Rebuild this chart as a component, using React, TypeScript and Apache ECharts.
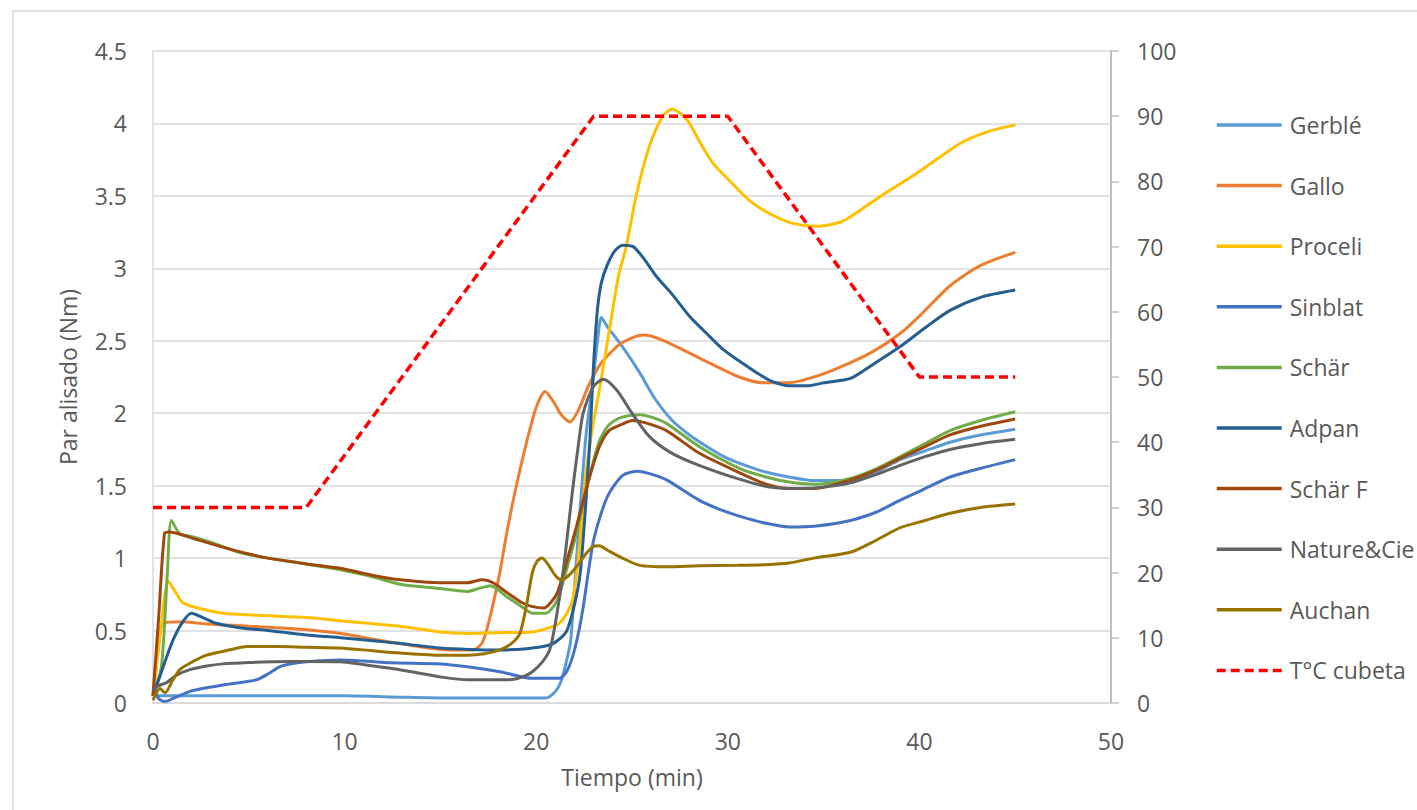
import React, { useEffect, useRef } from "react";
import * as echarts from "echarts";

const seriesNames = ["Gerblé", "Gallo", "Proceli", "Sinblat", "Schär", "Adpan", "Schär F", "Nature&Cie", "Auchan", "T°C cubeta"];
const seriesColors = ["#5B9BD5", "#ED7D31", "#FFC000", "#4472C4", "#70AD47", "#255E91", "#9E480E", "#636363", "#997300", "#FF0000"];

const gerble = [[0,0.10],[0.3,0.05],[1,0.05],[5,0.05],[10,0.05],[13,0.04],[15,0.035],[18,0.035],[20.5,0.035],[21,0.08],[21.3,0.15],[21.6,0.3],[21.8,0.43],[22.0,0.8],[22.3,1.35],[22.6,1.85],[22.97,2.23],[23.2,2.5],[23.4,2.66],[23.7,2.6],[24.5,2.46],[25.4,2.28],[26.2,2.1],[27.1,1.95],[28,1.85],[28.9,1.77],[29.8,1.70],[30.6,1.655],[31.8,1.60],[33.2,1.56],[34.5,1.535],[35.5,1.535],[36.4,1.54],[37.5,1.58],[39,1.68],[40.3,1.74],[41.6,1.80],[43.2,1.85],[45,1.89]];
const gallo = [[0,0.05],[0.3,0.4],[0.5,0.55],[1.5,0.56],[2.8,0.545],[5,0.53],[7.5,0.51],[9.8,0.48],[11.5,0.44],[12.9,0.41],[15,0.37],[16.7,0.366],[17.2,0.42],[17.6,0.6],[18.1,0.9],[18.5,1.2],[19.0,1.52],[19.5,1.8],[20.0,2.04],[20.46,2.15],[20.9,2.08],[21.3,1.99],[21.76,1.94],[22.2,2.02],[22.7,2.18],[23.3,2.33],[23.68,2.39],[24.3,2.47],[25.0,2.52],[25.6,2.54],[26.5,2.51],[28.0,2.415],[29.3,2.33],[30.6,2.25],[31.8,2.21],[33.2,2.21],[34.5,2.25],[35.9,2.32],[37.5,2.42],[39.0,2.55],[40,2.67],[41.6,2.88],[43.2,3.02],[45,3.11]];
const proceli = [[0,0.05],[0.4,0.5],[0.8,0.84],[1.2,0.76],[1.57,0.69],[2.5,0.65],[3.65,0.62],[5.5,0.605],[8,0.59],[10,0.565],[12.9,0.53],[15,0.49],[16.4,0.48],[18,0.485],[19.8,0.49],[20.7,0.52],[21.2,0.55],[21.6,0.62],[21.9,0.71],[22.2,1.0],[22.6,1.59],[23.0,1.95],[23.3,2.16],[23.85,2.6],[24.3,2.95],[24.7,3.15],[25.2,3.49],[25.9,3.84],[26.6,4.05],[27.1,4.1],[27.9,4.02],[28.5,3.88],[29.2,3.73],[30.2,3.59],[31.2,3.46],[32.3,3.37],[33.4,3.31],[34.6,3.29],[35.9,3.32],[36.9,3.40],[38,3.5],[39.9,3.66],[42.1,3.86],[43.5,3.94],[45,3.99]];
const sinblat = [[0,0.1],[0.3,0.03],[0.6,0.01],[1.2,0.04],[1.93,0.08],[2.8,0.105],[3.65,0.124],[5.4,0.16],[6.0,0.2],[6.6,0.25],[7.2,0.27],[8.0,0.285],[9.76,0.297],[11,0.29],[12.4,0.278],[15,0.27],[16.4,0.25],[18.1,0.216],[19.8,0.17],[21.2,0.17],[21.6,0.22],[21.9,0.32],[22.2,0.48],[22.45,0.66],[23.0,1.125],[23.7,1.42],[24.5,1.57],[25.3,1.60],[26.0,1.58],[26.8,1.54],[28.5,1.40],[29.5,1.34],[30.6,1.29],[32,1.24],[33.2,1.215],[34.5,1.22],[36.4,1.26],[37.8,1.32],[39,1.40],[40.3,1.48],[41.6,1.56],[43.2,1.62],[45,1.68]];
const schar = [[0,0.05],[0.44,0.25],[0.75,0.9],[0.96,1.26],[1.39,1.17],[2,1.15],[3,1.11],[4.5,1.04],[6,1.0],[8,0.96],[9.8,0.92],[11.5,0.87],[12.9,0.82],[15,0.79],[16.4,0.77],[17.0,0.79],[17.6,0.81],[18.5,0.73],[19.3,0.66],[19.8,0.62],[20.5,0.62],[21.1,0.71],[21.6,0.93],[22.1,1.17],[22.7,1.52],[23.3,1.81],[23.8,1.92],[24.4,1.97],[25.4,1.99],[26.1,1.97],[26.8,1.93],[28.5,1.77],[30.6,1.62],[32,1.56],[33.2,1.525],[34.5,1.51],[36.4,1.55],[37.8,1.62],[39,1.70],[40.3,1.79],[41.6,1.88],[43.2,1.95],[45,2.01]];
const adpan = [[0,0.05],[0.4,0.2],[1.0,0.42],[1.5,0.55],[2.0,0.62],[2.6,0.59],[3.3,0.55],[4.5,0.52],[6,0.5],[8,0.47],[9.8,0.45],[11.5,0.43],[12.9,0.41],[15,0.38],[16.5,0.37],[18.1,0.366],[19.5,0.375],[20.7,0.40],[21.2,0.44],[21.6,0.50],[22.0,0.68],[22.3,0.90],[22.6,1.4],[22.8,1.81],[23.0,2.35],[23.2,2.72],[23.4,2.90],[23.7,3.02],[24.1,3.12],[24.5,3.16],[25.06,3.15],[25.6,3.07],[26.3,2.94],[27.1,2.82],[28.0,2.67],[28.9,2.55],[29.75,2.44],[30.6,2.36],[31.5,2.28],[32.3,2.22],[33.2,2.19],[34.2,2.19],[35.0,2.21],[36.4,2.24],[37.5,2.33],[39.0,2.46],[40.3,2.59],[41.6,2.71],[43.2,2.80],[45,2.85]];
const scharF = [[0,0.05],[0.3,0.6],[0.6,1.17],[0.85,1.18],[2,1.14],[3,1.10],[4.5,1.045],[6,1.0],[8,0.96],[9.76,0.93],[11.5,0.88],[12.9,0.85],[15,0.83],[16.4,0.83],[17.2,0.85],[17.75,0.83],[18.5,0.76],[19.3,0.69],[19.8,0.665],[20.4,0.655],[20.8,0.70],[21.1,0.76],[21.6,0.98],[22.1,1.217],[22.7,1.52],[23.3,1.77],[23.8,1.88],[24.4,1.92],[25.05,1.95],[25.8,1.93],[26.8,1.88],[28.5,1.725],[30.6,1.59],[32,1.51],[33.2,1.48],[34.5,1.48],[36.4,1.54],[37.8,1.61],[39,1.69],[40.3,1.77],[41.6,1.85],[43.2,1.91],[45,1.96]];
const natureCie = [[0,0.09],[0.3,0.12],[0.7,0.14],[1.2,0.19],[1.93,0.23],[2.8,0.255],[3.65,0.27],[5,0.28],[6.3,0.285],[8,0.287],[9.76,0.285],[11,0.265],[12.4,0.24],[13.7,0.21],[15,0.18],[16.4,0.16],[18.6,0.16],[19.3,0.18],[19.8,0.216],[20.3,0.28],[20.7,0.366],[21.0,0.55],[21.4,0.9],[21.9,1.47],[22.2,1.78],[22.45,2.0],[22.97,2.18],[23.5,2.235],[24.2,2.16],[25.0,2.0],[25.9,1.84],[27.0,1.73],[28.5,1.64],[30.6,1.545],[32.2,1.49],[33.8,1.48],[35,1.49],[36.4,1.52],[37.8,1.58],[39,1.64],[40.3,1.70],[41.6,1.75],[43.2,1.79],[45,1.82]];
const auchan = [[0,0.02],[0.37,0.10],[0.63,0.07],[1.0,0.15],[1.4,0.23],[2.0,0.28],[2.8,0.33],[3.8,0.36],[4.9,0.39],[6.5,0.39],[8,0.385],[9.76,0.38],[11.5,0.36],[12.9,0.345],[15,0.33],[16.4,0.33],[17.3,0.34],[18.1,0.366],[18.7,0.41],[19.15,0.48],[19.5,0.68],[19.8,0.9],[20.05,0.98],[20.3,1.0],[20.6,0.96],[21.0,0.88],[21.3,0.85],[21.7,0.88],[22.1,0.94],[22.6,1.03],[22.97,1.08],[23.3,1.085],[23.7,1.056],[24.5,1.0],[25.4,0.95],[26.8,0.94],[28.5,0.947],[30.5,0.95],[32,0.955],[33.2,0.966],[34.5,1.0],[36.4,1.04],[37.7,1.12],[39,1.21],[40.3,1.26],[41.6,1.31],[43.2,1.35],[45,1.373]];
const tempCubeta = [[0,30],[8,30],[23,90],[30,90],[40,50],[45,50]];

const torqueData = [gerble, gallo, proceli, sinblat, schar, adpan, scharF, natureCie, auchan];

const FONT = "'Open Sans', sans-serif";
const TXT = "#595959";
const GRIDC = "#d9d9d9";

export default function App() {
  const ref = useRef<HTMLDivElement>(null);
  useEffect(() => {
    if (!ref.current) return;
    const chart = echarts.init(ref.current, null, { renderer: "svg" });
    const series: any[] = torqueData.map((d, i) => ({
      name: seriesNames[i],
      type: "line",
      data: d,
      yAxisIndex: 0,
      symbol: "none",
      smooth: 0.25,
      lineStyle: { width: 3, color: seriesColors[i] },
      itemStyle: { color: seriesColors[i] },
    }));
    series.push({
      name: seriesNames[9],
      type: "line",
      data: tempCubeta,
      yAxisIndex: 1,
      symbol: "none",
      lineStyle: { width: 3.5, color: seriesColors[9], type: [9, 5] },
      itemStyle: { color: seriesColors[9] },
    });
    chart.setOption({
      animation: false,
      textStyle: { fontFamily: FONT },
      graphic: [
        {
          type: "rect",
          shape: { x: 13, y: 11, width: 1440, height: 840 },
          style: { fill: "none", stroke: GRIDC, lineWidth: 1.5 },
          silent: true,
        },
      ],
      grid: { left: 153, right: 306, top: 51, bottom: 107, containLabel: false },
      legend: {
        orient: "vertical",
        left: 1215,
        top: 113,
        padding: 0,
        itemWidth: 65,
        itemHeight: 14,
        itemGap: 36.6,
        itemStyle: { opacity: 0 },
        lineStyle: { width: 3.5 },
        data: seriesNames,
        textStyle: { fontFamily: FONT, fontSize: 23, color: TXT, lineHeight: 24, padding: [0, 0, 0, 3] },
      },
      xAxis: {
        type: "value",
        min: 0,
        max: 50,
        interval: 10,
        name: "Tiempo (min)",
        nameLocation: "middle",
        nameGap: 62,
        nameTextStyle: { fontFamily: FONT, fontSize: 23, color: TXT },
        axisLine: { show: true, lineStyle: { color: GRIDC, width: 1.5 } },
        axisTick: { show: false },
        splitLine: { show: false },
        axisLabel: { fontFamily: FONT, fontSize: 23, color: TXT, margin: 26 },
      },
      yAxis: [
        {
          type: "value",
          min: 0,
          max: 4.5,
          interval: 0.5,
          name: "Par alisado (Nm)",
          nameLocation: "middle",
          nameGap: 74,
          nameTextStyle: { fontFamily: FONT, fontSize: 23, color: TXT },
          axisLine: { show: true, lineStyle: { color: GRIDC, width: 1.5 } },
          axisTick: { show: false },
          splitLine: { show: true, lineStyle: { color: GRIDC, width: 1.5 } },
          axisLabel: { fontFamily: FONT, fontSize: 23, color: TXT, margin: 26 },
        },
        {
          type: "value",
          min: 0,
          max: 100,
          interval: 10,
          position: "right",
          axisLine: { show: true, lineStyle: { color: "#bfbfbf", width: 2 } },
          axisTick: { show: true, length: 8, lineStyle: { color: "#bfbfbf", width: 1.5 } },
          splitLine: { show: false },
          axisLabel: { fontFamily: FONT, fontSize: 23, color: TXT, margin: 26 },
        },
      ],
      series,
    });
    return () => chart.dispose();
  }, []);
  return (
    <div
      ref={ref}
      style={{ position: "absolute", left: 0, top: 0, width: 1417, height: 810, background: "#fff" }}
    />
  );
}
